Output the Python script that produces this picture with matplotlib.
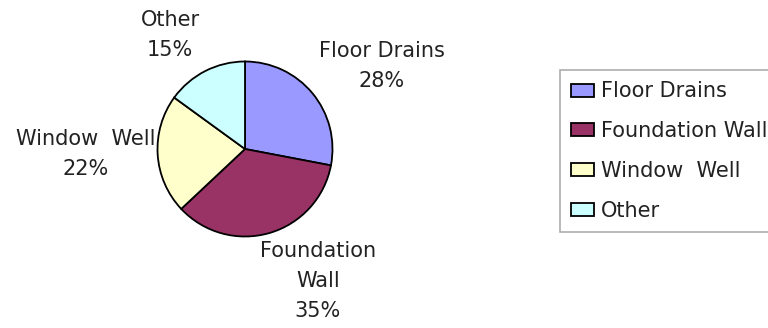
import matplotlib
matplotlib.use("Agg")
import matplotlib.pyplot as plt

categories = ["Floor Drains", "Foundation Wall", "Window  Well", "Other"]
pie_labels = ["Floor Drains\n28%", "Foundation\nWall\n35%", "Window  Well\n22%", "Other\n15%"]
values = [28, 35, 22, 15]
colors = ["#9999FF", "#993366", "#FFFFCC", "#CCFFFF"]

plt.rcParams['font.family'] = ['DejaVu Sans']

W, H = 768, 328
fig = plt.figure(figsize=(W / 100, H / 100), dpi=100)

cx, cy, r = 245, 149, 87.5
ax = fig.add_axes([(cx - r) / W, 1 - (cy + r) / H, 2 * r / W, 2 * r / H])
wedges, _ = ax.pie(values, colors=colors, startangle=90, counterclock=False,
                   wedgeprops=dict(edgecolor="black", linewidth=1.3))
ax.set_xlim(-1, 1)
ax.set_ylim(-1, 1)
ax.set_aspect("auto")

# label centres in pixels (layout only)
label_pos = [(382, 66), (318, 281), (86, 154), (170, 35)]
for lab, (px, py) in zip(pie_labels, label_pos):
    fig.text(px / W, 1 - py / H, lab, ha="center", va="center", fontsize=15,
             linespacing=1.6, color="#222222")

leg = fig.legend(wedges, categories, loc="upper left",
                 bbox_to_anchor=(560 / W, 1 - 70 / H), fontsize=15,
                 frameon=True, fancybox=False, edgecolor="#999999",
                 handlelength=1.1, handleheight=0.58, handletextpad=0.3,
                 labelspacing=0.95, borderpad=0.55, borderaxespad=0,
                 labelcolor="#222222")
leg.get_frame().set_linewidth(1.2)

fig.savefig("out.png", dpi=100)
